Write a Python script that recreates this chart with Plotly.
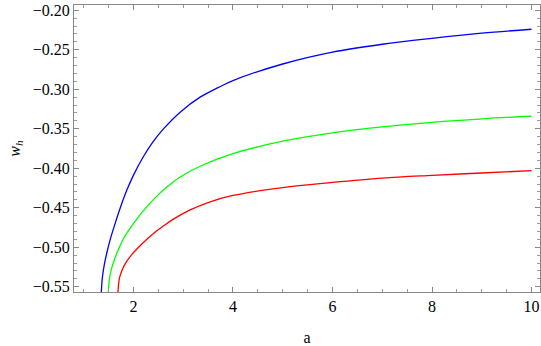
import plotly.graph_objects as go

# values
a_blue = [1.356, 1.376, 1.416, 1.467, 1.531, 1.618, 1.732, 1.867, 2.0, 2.2, 2.39, 2.6, 2.94,
          3.34, 3.7, 4.0, 5.0, 6.0, 7.0, 8.0, 9.0, 10.0]
w_blue = [-0.557, -0.539, -0.522, -0.507, -0.491, -0.473, -0.451, -0.428, -0.409, -0.3855,
          -0.367, -0.3505, -0.329, -0.310, -0.298, -0.289, -0.268, -0.253, -0.243, -0.2355,
          -0.229, -0.224]

a_green = [1.497, 1.517, 1.557, 1.618, 1.698, 1.799, 1.920, 2.068, 2.241, 2.437, 2.672,
           2.94, 3.342, 4.0, 5.0, 6.0, 7.0, 8.0, 9.0, 10.0]
w_green = [-0.557, -0.541, -0.528, -0.516, -0.503, -0.4893, -0.4773, -0.4643, -0.4508, -0.4375,
           -0.4239, -0.411, -0.3975, -0.3816, -0.3657, -0.3551, -0.3475, -0.3418, -0.3374, -0.334]

a_red = [1.69, 1.72, 1.77, 1.84, 1.95, 2.09, 2.26, 2.44, 2.61, 2.78, 3.14, 3.5, 4.0, 5.0, 6.0,
         7.0, 8.0, 9.0, 10.0]
w_red = [-0.557, -0.539, -0.5294, -0.5205, -0.5106, -0.501, -0.4905, -0.4807, -0.4728, -0.4654,
         -0.4528, -0.4434, -0.4345, -0.4245, -0.418, -0.4125, -0.409, -0.406, -0.403]

serif = "Times New Roman"

fig = go.Figure()
for a, w, col in [(a_blue, w_blue, "#0000ff"), (a_green, w_green, "#00ff00"), (a_red, w_red, "#ff0000")]:
    fig.add_trace(go.Scatter(x=a, y=w, mode="lines",
                             line=dict(color=col, width=1.3, shape="spline", smoothing=1.0),
                             showlegend=False))

axis_style = dict(showline=True, linecolor="#888888", linewidth=1, mirror="allticks",
                  ticks="inside", ticklen=5, tickcolor="#888888", showgrid=False, zeroline=False,
                  tickfont=dict(family=serif, size=16, color="black"))

fig.update_xaxes(range=[0.807, 10.17], dtick=2, tick0=0,
                 minor=dict(ticks="inside", ticklen=3, dtick=0.5, tickcolor="#999999", showgrid=False),
                 title=dict(text="a", font=dict(family=serif, size=16, color="black"), standoff=17),
                 **axis_style)
fig.update_yaxes(range=[-0.5567, -0.1933], dtick=0.05, tick0=0, tickformat=".2f",
                 minor=dict(ticks="inside", ticklen=3, dtick=0.01, tickcolor="#999999", showgrid=False),
                 title=dict(text="<i>w<sub>h</sub></i>", font=dict(family=serif, size=16, color="black"),
                            standoff=8),
                 **axis_style)

fig.update_layout(width=541, height=346, margin=dict(l=74, r=1, t=5, b=54),
                  font=dict(family=serif, size=16, color="black"),
                  plot_bgcolor="white", paper_bgcolor="white")
fig.write_html("out.html", config={"displayModeBar": False},
               post_script="document.body.style.margin='0';")
